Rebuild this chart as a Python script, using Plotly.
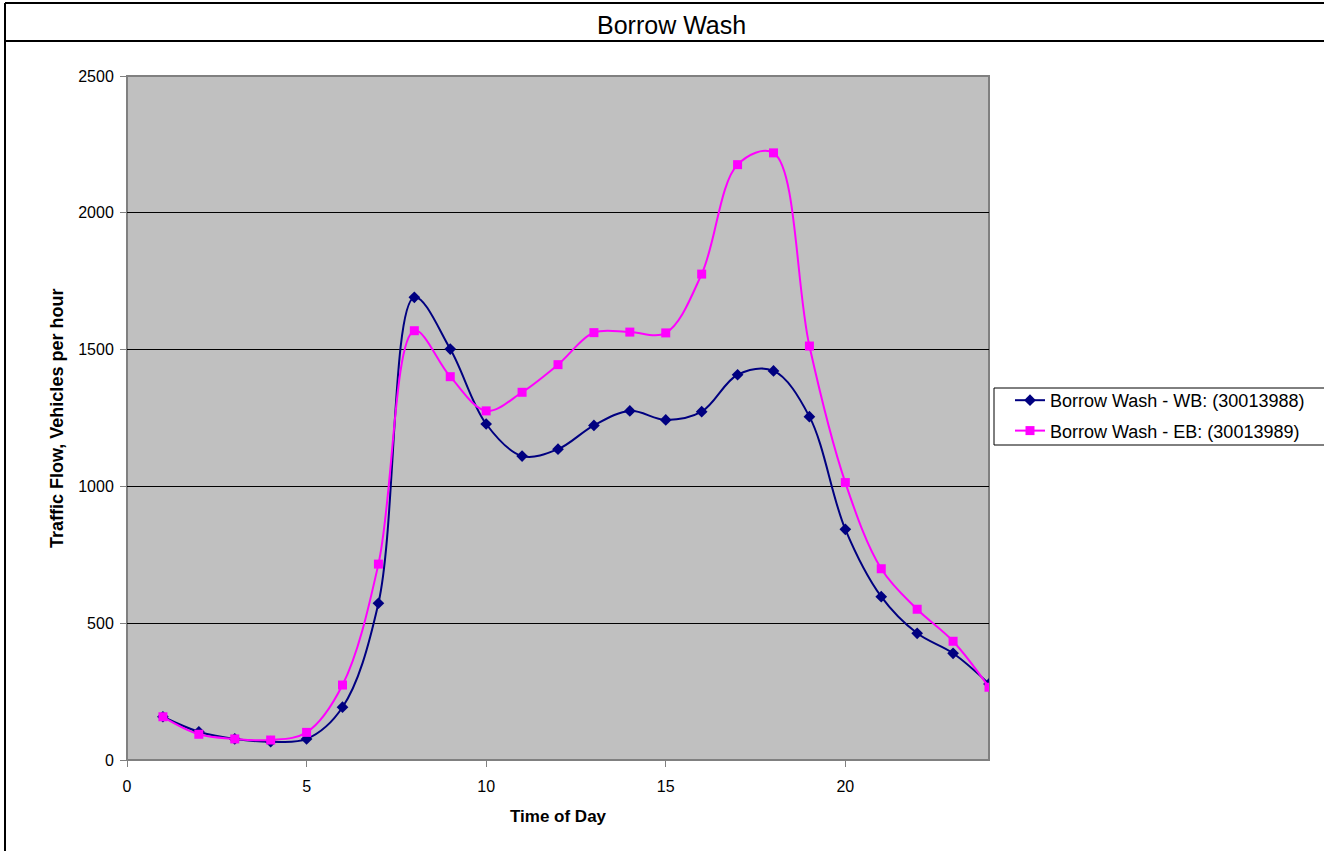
import plotly.graph_objects as go

# Hourly traffic counts, Borrow Wash
hours = list(range(1, 25))
wb_flow = [158, 103, 77, 67, 77, 193, 573, 1691, 1502, 1228, 1111, 1136, 1223, 1276,
           1243, 1273, 1408, 1422, 1255, 843, 597, 463, 390, 278]
eb_flow = [158, 94, 77, 73, 101, 274, 716, 1569, 1401, 1276, 1344, 1445, 1562, 1564,
           1561, 1776, 2176, 2219, 1513, 1014, 699, 551, 434, 266]

series_names = ["Borrow Wash - WB: (30013988)", "Borrow Wash - EB: (30013989)"]
chart_title = "Borrow Wash"
x_title = "Time of Day"
y_title = "Traffic Flow, Vehicles per hour"
x_ticks = [0, 5, 10, 15, 20]
y_ticks = [0, 500, 1000, 1500, 2000, 2500]

W, H = 1324, 851
L, R, T, B = 127, 989, 76, 760  # plot area in pixels


def px_x(p):
    return (p - L) / (R - L)


def px_y(p):
    return (B - p) / (B - T)


font = "Liberation Sans, Arial, sans-serif"

fig = go.Figure()
fig.add_trace(go.Scatter(
    x=hours, y=wb_flow, name=series_names[0], mode="lines+markers", legendgroup="wb",
    line=dict(color="#000080", width=2, shape="spline", smoothing=1.0),
    marker=dict(symbol="diamond", size=9, color="#000080"),
))
fig.add_trace(go.Scatter(
    x=hours, y=eb_flow, name=series_names[1], mode="lines+markers", legendgroup="eb",
    line=dict(color="#FF00FF", width=2, shape="spline", smoothing=1.0),
    marker=dict(symbol="square", size=9, color="#FF00FF"),
))

frame = dict(color="black", width=2)
shapes = [
    # chart frame: left edge, top edge and title band separator
    dict(type="line", xref="paper", yref="paper", x0=px_x(5), x1=px_x(5),
         y0=px_y(860), y1=px_y(3), line=frame),
    dict(type="line", xref="paper", yref="paper", x0=px_x(5), x1=px_x(1330),
         y0=px_y(3), y1=px_y(3), line=frame),
    dict(type="line", xref="paper", yref="paper", x0=px_x(5), x1=px_x(1330),
         y0=px_y(41), y1=px_y(41), line=frame),
    # plot area border
    dict(type="rect", xref="paper", yref="paper", x0=0, x1=1, y0=0, y1=1,
         line=dict(color="#808080", width=2), layer="below"),
    # legend box
    dict(type="rect", xref="paper", yref="paper", x0=px_x(994), x1=px_x(1330),
         y0=px_y(445), y1=px_y(388), fillcolor="white",
         line=dict(color="black", width=1), layer="below"),
]

annotations = [
    dict(text=chart_title, xref="paper", yref="paper", x=px_x(671), y=px_y(25),
         xanchor="center", yanchor="middle", showarrow=False,
         font=dict(size=25, color="black", family=font)),
    dict(text="<b>%s</b>" % x_title, xref="paper", yref="paper", x=px_x(558), y=px_y(816),
         xanchor="center", yanchor="middle", showarrow=False,
         font=dict(size=17, color="black", family=font)),
    dict(text="<b>%s</b>" % y_title, xref="paper", yref="paper", x=px_x(57), y=px_y(419),
         xanchor="center", yanchor="middle", showarrow=False, textangle=-90,
         font=dict(size=18, color="black", family=font)),
]

fig.update_layout(
    width=W, height=H,
    margin=dict(l=L, r=W - R, t=T, b=H - B, pad=0),
    paper_bgcolor="white", plot_bgcolor="#C0C0C0",
    font=dict(family=font, size=16, color="black"),
    showlegend=True,
    legend=dict(x=px_x(1010), y=px_y(382), xanchor="left", yanchor="top",
                bgcolor="rgba(0,0,0,0)", borderwidth=0, traceorder="grouped",
                font=dict(size=18, family=font), tracegroupgap=4),
    shapes=shapes, annotations=annotations,
    xaxis=dict(range=[0, 24], tickvals=x_ticks, showgrid=False, zeroline=False,
               ticks="outside", ticklen=6, tickcolor="#808080", showline=False,
               tickfont=dict(size=16), ticklabelstandoff=6),
    yaxis=dict(range=[0, 2500], tickvals=y_ticks, showgrid=True, gridcolor="black",
               gridwidth=1, zeroline=False, ticks="outside", ticklen=6,
               tickcolor="#808080", showline=False, tickfont=dict(size=16),
               ticklabelstandoff=3),
)

fig.write_html("out.html")
